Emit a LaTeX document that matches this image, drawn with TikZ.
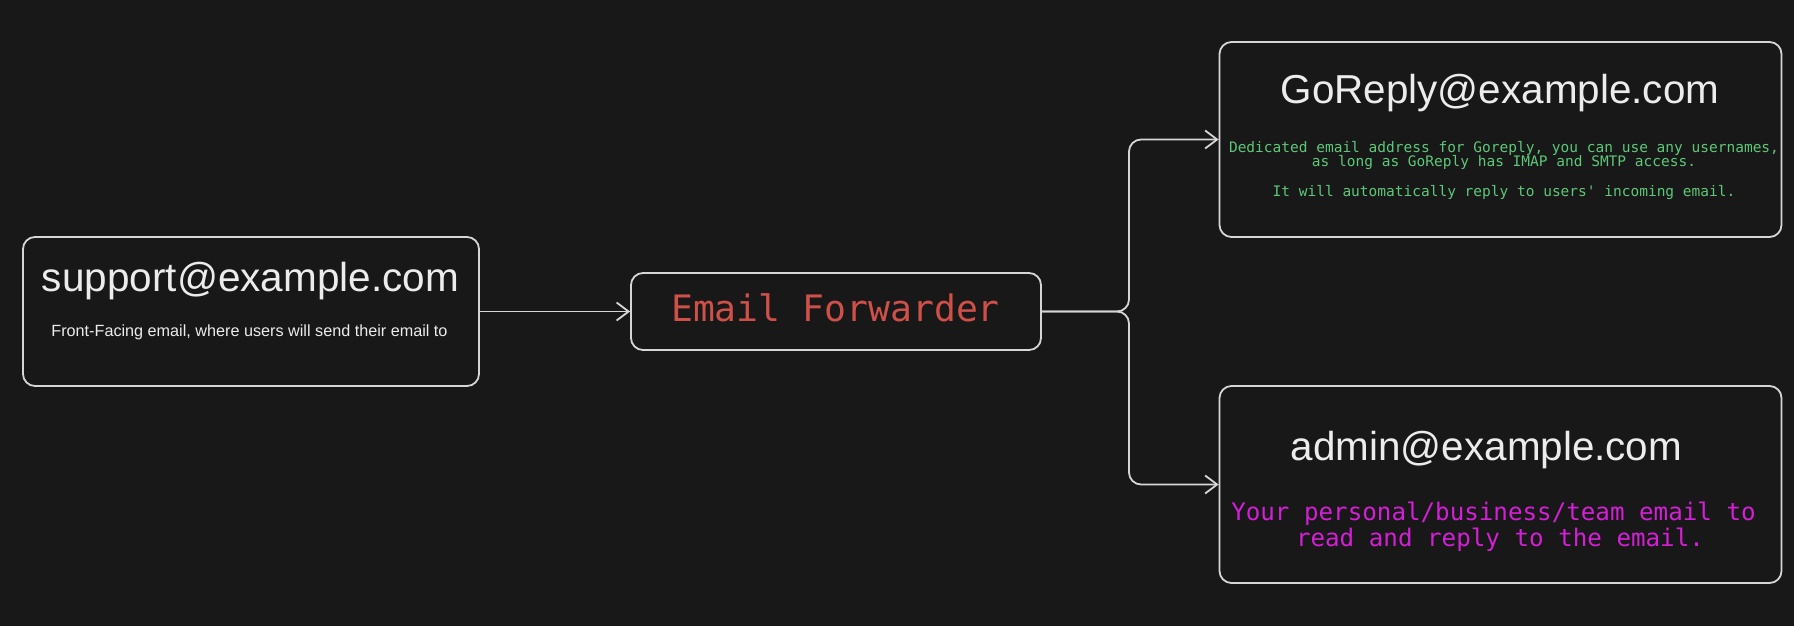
\documentclass[tikz,border=0pt]{standalone}
\usepackage{fontspec}
\setmainfont{Liberation Sans}
\newfontfamily\monof{DejaVu Sans Mono}
\usetikzlibrary{arrows.meta}
\definecolor{bgc}{HTML}{181818}
\definecolor{edgec}{HTML}{D6D6D6}
\definecolor{txtc}{HTML}{ECECEC}
\definecolor{redc}{HTML}{CE5049}
\definecolor{greenc}{HTML}{5CC878}
\definecolor{magc}{HTML}{D41FD6}
\tikzset{
  boxnode/.style={draw=edgec, fill=bgc, line width=1.8pt, rounded corners=12pt, inner sep=0pt},
  txt/.style={inner sep=0pt, anchor=base, text=txtc},
  conn/.style={draw=edgec, line width=1.8pt, rounded corners=12pt, -{Straight Barb[length=12pt,width=18pt,line width=1.8pt]}}
}
\begin{document}
\begin{tikzpicture}[x=1pt,y={(0pt,-1pt)}]
\path[fill=bgc] (0,0) rectangle (1794,626);
\useasboundingbox (0,0) rectangle (1794,626);

\node[boxnode, minimum width=456pt, minimum height=149pt] (sup) at (251,311.5) {};
\node[boxnode, minimum width=410pt, minimum height=77pt] (fwd) at (836,311.5) {};
\node[boxnode, minimum width=562pt, minimum height=195pt] (gor) at (1500.5,139.5) {};
\node[boxnode, minimum width=562pt, minimum height=197pt] (adm) at (1500.5,484.5) {};

% texts
\node[txt, font=\fontsize{40.5}{44}\selectfont] (supt) at (250.5,291) {support@example.com};
\node[txt, font=\fontsize{16.2}{19}\selectfont] (sups) at (249.5,336) {Front-Facing email, where users will send their email to};

\node[txt, text=redc, font=\monof\fontsize{36.4}{40}\selectfont] (fwdt) at (835.5,321) {Email Forwarder};

\node[txt, font=\fontsize{40.4}{44}\selectfont] (gort) at (1500,103) {GoReply@example.com};
\node[txt, text=greenc, font=\monof\fontsize{14.5}{16}\selectfont] (gor1) at (1504,152) {Dedicated email address for Goreply, you can use any usernames,};
\node[txt, text=greenc, font=\monof\fontsize{14.5}{16}\selectfont] (gor2) at (1504,166) {as long as GoReply has IMAP and SMTP access.};
\node[txt, text=greenc, font=\monof\fontsize{14.5}{16}\selectfont] (gor3) at (1504,196) {It will automatically reply to users' incoming email.};

\node[txt, font=\fontsize{40.4}{44}\selectfont] (admt) at (1486.5,460) {admin@example.com};
\node[txt, text=magc, font=\monof\fontsize{24.2}{28}\selectfont] (adm1) at (1493.5,520) {Your personal/business/team email to};
\node[txt, text=magc, font=\monof\fontsize{24.2}{28}\selectfont] (adm2) at (1500,546) {read and reply to the email.};

% connectors
\draw[conn] (sup.east) -- (fwd.west);
\draw[conn] (fwd.east) -- (1129,311.5) |- (gor.west);
\draw[conn] (fwd.east) -- (1129,311.5) |- (adm.west);
\end{tikzpicture}
\end{document}
